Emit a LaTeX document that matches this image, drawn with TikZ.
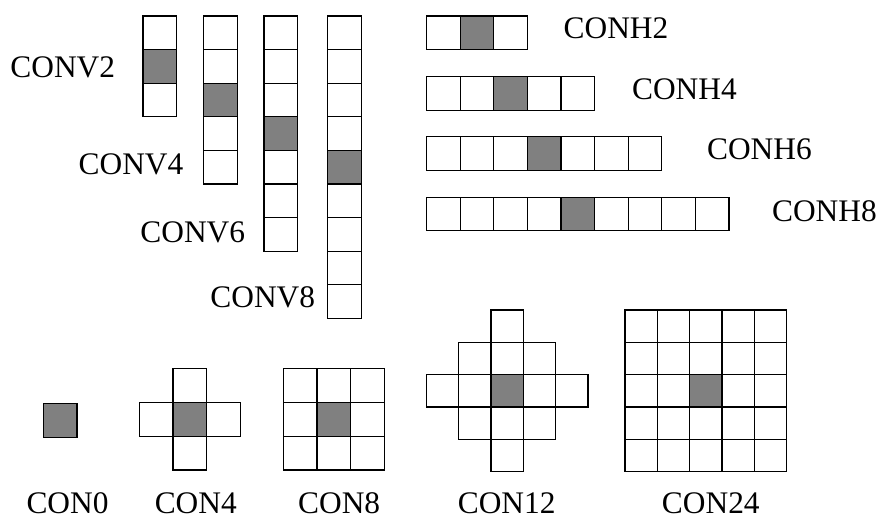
\documentclass[tikz,border=0pt]{standalone}
\usepackage{fontspec}
\setmainfont{Liberation Serif}
\definecolor{midgray}{HTML}{808080}
\tikzset{
    lab/.style={
        font=\fontsize{15.7}{19}\selectfont, inner sep=0pt
    },
    cellbox/.style={draw=black, line width=0.6pt, fill=white},
    hotbox/.style={draw=black, line width=0.6pt, fill=midgray}
}

\begin{document}
\begin{tikzpicture}[x=0.5pt, y=-0.5pt, line join=miter]

\useasboundingbox (0,0) rectangle (882,517);

\def\cA{33.6}
\def\cB{33.7}
\def\cC{32.3}

% vertical strips (top left)
\foreach \x/\n/\s in {143/3/2, 203.5/5/3, 264/7/4, 327.7/9/5} {
  \foreach \i in {1,...,\n} {
    \draw[cellbox] (\x,{16+(\i-1)*\cA}) rectangle ++(\cA,\cA);
  }
  \draw[hotbox] (\x,{16+(\s-1)*\cA}) rectangle ++(\cA,\cA);
}

% horizontal strips (top right)
\foreach \y/\n/\s in {16/3/2, 76.7/5/3, 136.7/7/4, 197.3/9/5} {
  \foreach \i in {1,...,\n} {
    \draw[cellbox] ({426.5+(\i-1)*\cA},\y) rectangle ++(\cA,\cA);
  }
  \draw[hotbox] ({426.5+(\s-1)*\cA},\y) rectangle ++(\cA,\cA);
}

\node[lab, anchor=base west] (conv2) at (10,77.3) {CONV2};
\node[lab, anchor=base west] (conv4) at (78.3,175) {CONV4};
\node[lab, anchor=base west] (conv6) at (140,242.3) {CONV6};
\node[lab, anchor=base west] (conv8) at (210,307.3) {CONV8};

\node[lab, anchor=base west] (conh2) at (563.3,38.3) {CONH2};
\node[lab, anchor=base west] (conh4) at (631.7,99.3) {CONH4};
\node[lab, anchor=base west] (conh6) at (706.7,160) {CONH6};
\node[lab, anchor=base west] (conh8) at (771.7,221.7) {CONH8};

% CON0
\draw[hotbox] (43.3,403.7) rectangle ++(\cB,\cB);

% CON4 (cross)
\foreach \i/\j in {-1/0, 1/0, 0/-1, 0/1} {
  \draw[cellbox] ({173+\i*\cB},{402.5+\j*\cB}) rectangle ++(\cB,\cB);
}
\draw[hotbox] (173,402.5) rectangle ++(\cB,\cB);

% CON8 (3x3)
\foreach \i in {-1,0,1} {
  \foreach \j in {-1,0,1} {
    \draw[cellbox] ({317+\i*\cB},{402.5+\j*\cB}) rectangle ++(\cB,\cB);
  }
}
\draw[hotbox] (317,402.5) rectangle ++(\cB,\cB);

% CON12 (diamond)
\foreach \i in {-2,...,2} {
  \foreach \j in {-2,...,2} {
    \pgfmathtruncatemacro\d{abs(\i)+abs(\j)}
    \ifnum\d<3
      \draw[cellbox] ({491+\i*\cC},{374.7+\j*\cC}) rectangle ++(\cC,\cC);
    \fi
  }
}
\draw[hotbox] (491,374.7) rectangle ++(\cC,\cC);

% CON24 (5x5)
\foreach \i in {-2,...,2} {
  \foreach \j in {-2,...,2} {
    \draw[cellbox] ({689.6+\i*\cC},{374.7+\j*\cC}) rectangle ++(\cC,\cC);
  }
}
\draw[hotbox] (689.6,374.7) rectangle ++(\cC,\cC);

\node[lab, anchor=base] (con0) at (67.5,513.3) {CON0};
\node[lab, anchor=base] (con4) at (195.8,513.3) {CON4};
\node[lab, anchor=base] (con8) at (339.2,513.3) {CON8};
\node[lab, anchor=base] (con12) at (506.7,513.3) {CON12};
\node[lab, anchor=base] (con24) at (710.8,513.3) {CON24};

\end{tikzpicture}
\end{document}
